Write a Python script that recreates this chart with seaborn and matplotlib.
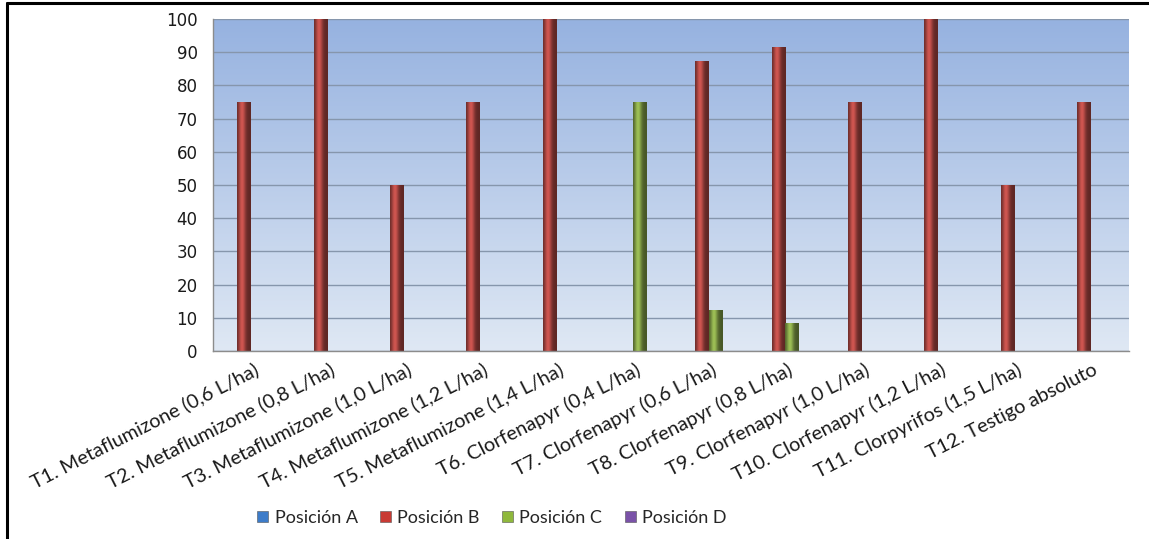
import numpy as np
import pandas as pd
import matplotlib
matplotlib.use("Agg")
import matplotlib.pyplot as plt
import seaborn as sns
from matplotlib.patches import Patch
from matplotlib.lines import Line2D

# Treatments and efficacy (%) by position
treatments = [
    "T1. Metaflumizone (0,6 L/ha)",
    "T2. Metaflumizone (0,8 L/ha)",
    "T3. Metaflumizone (1,0 L/ha)",
    "T4. Metaflumizone (1,2 L/ha)",
    "T5. Metaflumizone (1,4 L/ha)",
    "T6. Clorfenapyr (0,4 L/ha)",
    "T7. Clorfenapyr (0,6 L/ha)",
    "T8. Clorfenapyr (0,8 L/ha)",
    "T9. Clorfenapyr (1,0 L/ha)",
    "T10. Clorfenapyr (1,2 L/ha)",
    "T11. Clorpyrifos (1,5 L/ha)",
    "T12. Testigo absoluto",
]
series_names = ["Posición A", "Posición B", "Posición C", "Posición D"]
pos_a = [0, 0, 0, 0, 0, 0, 0, 0, 0, 0, 0, 0]
pos_b = [75, 100, 50, 75, 100, 0, 87.5, 91.7, 75, 100, 50, 75]
pos_c = [0, 0, 0, 0, 0, 75, 12.5, 8.3, 0, 0, 0, 0]
pos_d = [0, 0, 0, 0, 0, 0, 0, 0, 0, 0, 0, 0]
y_ticks = list(range(0, 101, 10))

colors = ["#3D7CC9", "#C93A34", "#8FB83C", "#7A52A8"]

df = pd.DataFrame({
    "Tratamiento": treatments * 4,
    "Serie": np.repeat(series_names, len(treatments)),
    "Valor": pos_a + pos_b + pos_c + pos_d,
})

sns.set_style("white")
plt.rcParams["font.family"] = ["DejaVu Sans"]

fig = plt.figure(figsize=(11.49, 5.39), dpi=100)
ax = fig.add_axes([213 / 1149, 1 - 351 / 539, (1129 - 213) / 1149, (351 - 19) / 539])

sns.barplot(data=df, x="Tratamiento", y="Valor", hue="Serie",
            palette=colors, width=0.73, gap=0.0, ax=ax,
            order=treatments, hue_order=series_names, legend=False,
            edgecolor="none", linewidth=0)

n = len(treatments)

# vertical gradient background of the plot area (blue at top, pale at bottom)
g = np.linspace(0, 1, 256)[:, None]
top_c = np.array([0x96, 0xB2, 0xE0]) / 255
bot_c = np.array([0xDF, 0xE8, 0xF4]) / 255
bg_rgb = top_c[None, None, :] * (1 - g[..., None]) + bot_c[None, None, :] * g[..., None]
ax.imshow(bg_rgb, extent=[-0.5, n - 0.5, 0, 100], aspect="auto",
          zorder=0, origin="upper")

# cylinder-like shading on each bar
t = np.linspace(0, 1, 60)
shade = 0.52 + 0.62 * np.exp(-((t - 0.36) / 0.26) ** 2)
for p in list(ax.patches):
    h = p.get_height()
    if h <= 0:
        p.set_visible(False)
        continue
    base = np.array(matplotlib.colors.to_rgb(p.get_facecolor()))
    grad = np.clip(base[None, :] * shade[:, None], 0, 1)
    x0, w = p.get_x(), p.get_width()
    im = ax.imshow(grad[None, :, :], extent=[x0, x0 + w, 0, h], aspect="auto",
                   zorder=3, origin="lower")
    im.set_clip_path(p)
    p.set_zorder(2)
ax.set_ylim(0, 100)
ax.set_xlim(-0.5, n - 0.5)

# grid and axes
ax.set_yticks(y_ticks)
ax.yaxis.grid(True, color="#8696AC", linewidth=1.0, zorder=1)
ax.set_axisbelow(True)
for s in ["top", "right"]:
    ax.spines[s].set_visible(False)
for s in ["left", "bottom"]:
    ax.spines[s].set_color("#8C8C8C")
    ax.spines[s].set_linewidth(1.0)
    ax.spines[s].set_zorder(4)

ax.set_xticks(np.arange(n))
ax.set_xticklabels(treatments, rotation=27, ha="right", rotation_mode="anchor",
                   fontsize=14.3, family=["Lato", "DejaVu Sans"], color="#1a1a1a")
ax.tick_params(axis="x", length=0, pad=7)
for lab in ax.get_xticklabels():
    lab.set_transform(lab.get_transform() + matplotlib.transforms.ScaledTranslation(2 / 100, 0, fig.dpi_scale_trans))
# category boundary ticks
ax.set_xticks(np.arange(n + 1) - 0.5, minor=True)
ax.tick_params(axis="x", which="minor", length=5, color="#8C8C8C", direction="out")
ax.tick_params(axis="y", length=5, color="#8C8C8C", direction="out", labelsize=12,
               pad=6, labelcolor="#1a1a1a")
ax.set_xlabel("")
ax.set_ylabel("")

# legend
handles = [Patch(facecolor=c, edgecolor="#555555", linewidth=0.4) for c in colors]
fig.legend(handles, series_names, loc="center", bbox_to_anchor=(492 / 1149, 1 - 518 / 539),
           ncol=4, frameon=False, prop={"family": "Lato", "size": 13},
           handlelength=0.6, handleheight=0.6, handletextpad=0.35, columnspacing=1.25)

# outer frame (left and top edges)
fig.add_artist(Line2D([7 / 1149, 7 / 1149], [0, 1 - 3 / 539], color="black", linewidth=2.2,
                      transform=fig.transFigure))
fig.add_artist(Line2D([7 / 1149, 1], [1 - 3 / 539, 1 - 3 / 539], color="black", linewidth=2.2,
                      transform=fig.transFigure))

fig.savefig("out.png", dpi=100)
